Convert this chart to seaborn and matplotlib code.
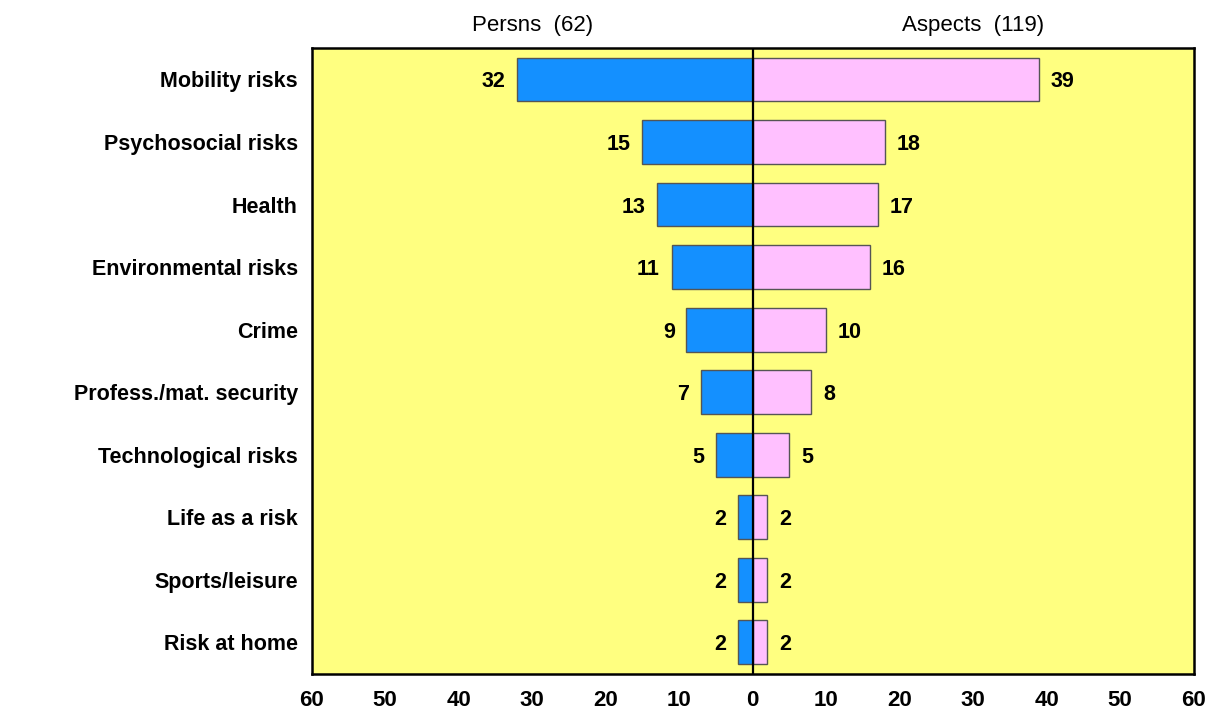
import pandas as pd
import numpy as np
import matplotlib
matplotlib.use('Agg')
import matplotlib.pyplot as plt
import seaborn as sns

categories = ['Mobility risks', 'Psychosocial risks', 'Health', 'Environmental risks', 'Crime',
              'Profess./mat. security', 'Technological risks', 'Life as a risk', 'Sports/leisure',
              'Risk at home']
persons = [32, 15, 13, 11, 9, 7, 5, 2, 2, 2]
aspects = [39, 18, 17, 16, 10, 8, 5, 2, 2, 2]
tick_values = [-60, -50, -40, -30, -20, -10, 0, 10, 20, 30, 40, 50, 60]

df = pd.DataFrame({'category': categories,
                   'persons': [-v for v in persons],
                   'aspects': aspects})

sns.set_style('white')
plt.rcParams['font.family'] = ['Liberation Sans', 'DejaVu Sans']
plt.rcParams['text.color'] = 'black'
plt.rcParams['xtick.color'] = 'black'
plt.rcParams['ytick.color'] = 'black'

fig, ax = plt.subplots(figsize=(12.08, 7.09), dpi=100)
fig.subplots_adjust(left=0.258, right=0.988, top=0.932, bottom=0.05)
ax.set_facecolor('#ffff80')

sns.barplot(data=df, x='persons', y='category', orient='h', color='#1490ff',
            saturation=1, width=0.7, edgecolor='#555555', linewidth=1, ax=ax)
sns.barplot(data=df, x='aspects', y='category', orient='h', color='#ffc0ff',
            saturation=1, width=0.7, edgecolor='#555555', linewidth=1, ax=ax)

ax.axvline(0, color='black', linewidth=1.6, zorder=5)

# value labels next to the bar ends
for i, (p, a) in enumerate(zip(persons, aspects)):
    ax.text(-p - 1.6, i, str(p), ha='right', va='center_baseline', fontsize=15.5, fontweight='bold')
    ax.text(a + 1.6, i, str(a), ha='left', va='center_baseline', fontsize=15.5, fontweight='bold')

ax.set_xlim(-60, 60)
ax.set_ylim(9.5, -0.5)
ax.set_xticks(tick_values)
ax.set_xticklabels([str(abs(v)) for v in tick_values], fontsize=16, fontweight='bold')
ax.tick_params(axis='x', length=0, pad=12)
ax.tick_params(axis='y', length=0, pad=10)
ax.set_yticks(range(len(categories)))
ax.set_yticklabels(categories, fontsize=15.5, fontweight='bold', va='center_baseline')
ax.set_xlabel('')
ax.set_ylabel('')

for s in ax.spines.values():
    s.set_visible(True)
    s.set_color('black')
    s.set_linewidth(1.8)

ax.text(-30, -0.7, 'Persns  (62)', ha='center', va='bottom', fontsize=16)
ax.text(30, -0.7, 'Aspects  (119)', ha='center', va='bottom', fontsize=16)

plt.savefig('out.png', dpi=100)
